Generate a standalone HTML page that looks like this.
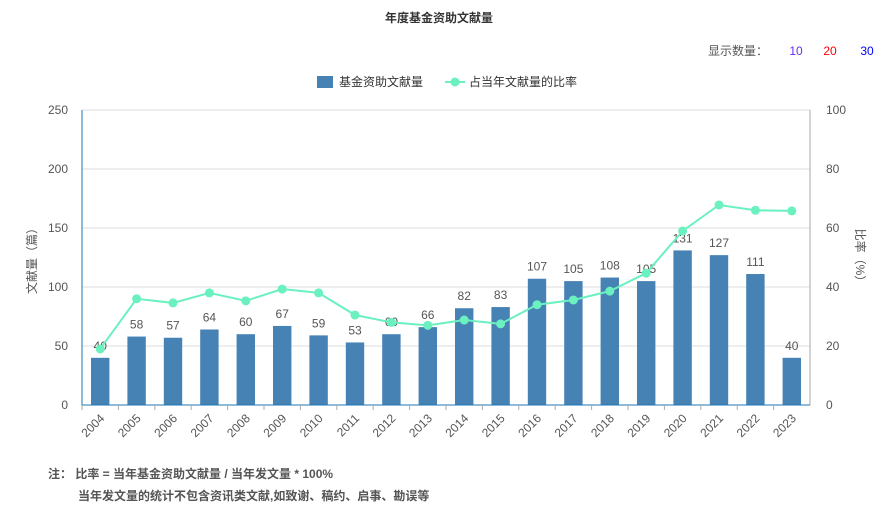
<!DOCTYPE html>
<html><head><meta charset="utf-8"><style>
body{margin:0;background:#fff;font-family:"Liberation Sans","Noto Sans CJK SC",sans-serif;}
svg text{font-family:"Liberation Sans","Noto Sans CJK SC",sans-serif;}
</style></head><body>
<svg id="chart" width="878" height="512" xmlns="http://www.w3.org/2000/svg">
<text x="439" y="22" text-anchor="middle" font-size="12" font-weight="bold" fill="#333">年度基金资助文献量</text>
<text x="768" y="55" text-anchor="end" font-size="12" fill="#555">显示数量：</text>
<text x="796" y="55" text-anchor="middle" font-size="12" fill="#6a2cf0">10</text>
<text x="830" y="55" text-anchor="middle" font-size="12" fill="#f00">20</text>
<text x="867" y="55" text-anchor="middle" font-size="12" fill="#00f">30</text>
<g>
<rect x="317" y="76" width="16" height="12" fill="#4682b4"/>
<text x="339" y="86" font-size="12" fill="#333">基金资助文献量</text>
<line x1="445" y1="82" x2="465" y2="82" stroke="#6bf0c0" stroke-width="2"/>
<circle cx="455" cy="82" r="4.5" fill="#6bf0c0"/>
<text x="469" y="86" font-size="12" fill="#333">占当年文献量的比率</text>
</g>
<g id="grid"></g><g id="bars"></g><g id="line"></g><g id="axes"></g>
<text transform="translate(36,258) rotate(-90)" text-anchor="middle" font-size="12" fill="#555">文献量（篇）</text>
<text transform="translate(856,258) rotate(90)" text-anchor="middle" font-size="12" fill="#555">比率（%）</text>
<text x="48" y="478" font-size="12" font-weight="bold" fill="#555">注：  比率 = 当年基金资助文献量 / 当年发文量 * 100%</text>
<text x="78" y="500" font-size="12" font-weight="bold" fill="#555">当年发文量的统计不包含资讯类文献,如致谢、稿约、启事、勘误等</text>
</svg>
<script>
const categories=["2004","2005","2006","2007","2008","2009","2010","2011","2012","2013","2014","2015","2016","2017","2018","2019","2020","2021","2022","2023"];
const counts=[40,58,57,64,60,67,59,53,60,66,82,83,107,105,108,105,131,127,111,40];
const ratios=[19,36,34.6,38,35.3,39.3,38,30.5,28,27,28.8,27.5,34,35.6,38.6,44.7,59,67.8,66,65.8];
const leftTicks=[0,50,100,150,200,250];
const rightTicks=[0,20,40,60,80,100];
const NS="http://www.w3.org/2000/svg";
const L=82,R=810,T=110,B=405;
const bw=(R-L)/categories.length;
const xc=i=>L+bw*(i+0.5);
const yl=v=>B-(v/250)*(B-T);
const yr=v=>B-(v/100)*(B-T);
function mk(tag,attrs,parent,txt){const e=document.createElementNS(NS,tag);for(const k in attrs)e.setAttribute(k,attrs[k]);if(txt!==undefined)e.textContent=txt;document.getElementById(parent).appendChild(e);return e;}
leftTicks.forEach((t,i)=>{
 if(t>0){const g=mk('line',{x1:L,x2:R,y1:yl(t),y2:yl(t),stroke:'#ddd'},'grid');
 
 }
 const a=mk('text',{x:L-14,y:yl(t)+4,'text-anchor':'end','font-size':12,fill:'#555'},'axes',t);
 
 
 const b=mk('text',{x:R+16,y:yr(rightTicks[i])+4,'font-size':12,fill:'#555'},'axes',rightTicks[i]);
 
 
});
const ax=mk('line',{x1:L,x2:L,y1:T,y2:B,stroke:'#1f77b4'},'axes');


const ax2=mk('line',{x1:R,x2:R,y1:T,y2:B,stroke:'#aaa'},'axes');


const xa=mk('line',{x1:L,x2:R,y1:B,y2:B,stroke:'#1f77b4'},'axes');


categories.forEach((c,i)=>{
 const tk=mk('line',{x1:L+bw*i,x2:L+bw*i,y1:B,y2:B+5,stroke:'#aaa'},'axes');
 
 
 const x=xc(i);
 const t=mk('text',{x:x+5,y:B+14,'text-anchor':'end','font-size':12,fill:'#555',transform:`rotate(-45 ${x+5} ${B+14})`},'axes',c);
 
 
 const r=mk('rect',{x:x-9.2,y:yl(counts[i]),width:18.4,height:B-yl(counts[i]),fill:'#4682b4'},'bars');
 
 
 const l=mk('text',{x:x,y:yl(counts[i])-8,'text-anchor':'middle','font-size':12,fill:'#555'},'bars',counts[i]);
 
 
});
const pl=mk('polyline',{points:ratios.map((v,i)=>xc(i)+','+yr(v)).join(' '),fill:'none',stroke:'#6bf0c0','stroke-width':2},'line');


ratios.forEach((v,i)=>{
 const p=mk('circle',{cx:xc(i),cy:yr(v),r:4.5,fill:'#6bf0c0'},'line');
 
 
});
</script>
</body></html>
